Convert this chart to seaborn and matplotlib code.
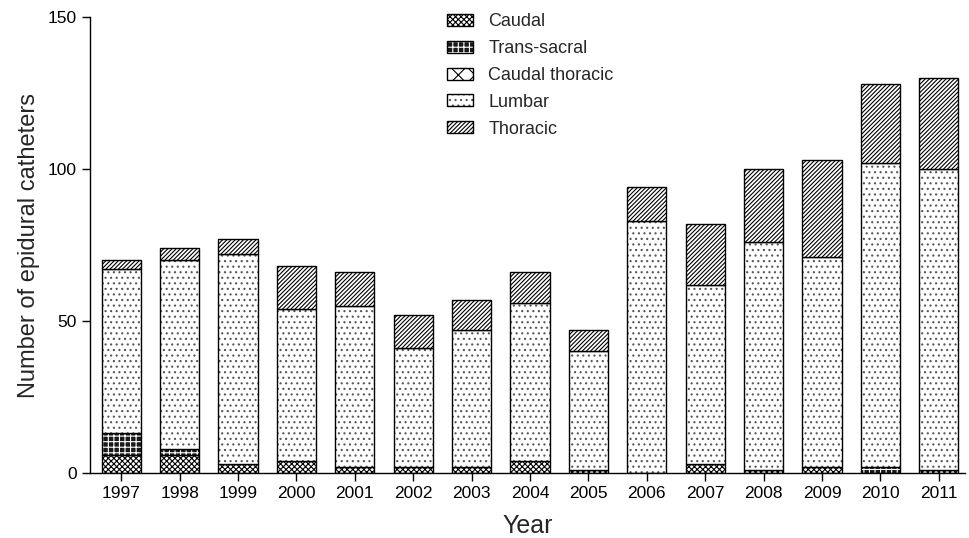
import matplotlib
matplotlib.use("Agg")
import matplotlib.pyplot as plt
import seaborn as sns
import numpy as np
import pandas as pd
from matplotlib.patches import Patch
from matplotlib.legend_handler import HandlerTuple

years = ["1997", "1998", "1999", "2000", "2001", "2002", "2003", "2004",
         "2005", "2006", "2007", "2008", "2009", "2010", "2011"]
caudal = [6, 6, 3, 4, 2, 2, 2, 4, 1, 0, 3, 1, 2, 0, 1]
trans_sacral = [7, 2, 0, 0, 0, 0, 0, 0, 0, 0, 0, 0, 0, 2, 0]
caudal_thoracic = [0, 0, 0, 0, 0, 0, 0, 0, 0, 0, 0, 0, 0, 0, 0]
lumbar_top = [67, 70, 72, 54, 55, 41, 47, 56, 40, 83, 62, 76, 71, 102, 100]
totals = [70, 74, 77, 68, 66, 52, 57, 66, 47, 94, 82, 100, 103, 128, 130]

caudal = np.array(caudal)
trans_sacral = np.array(trans_sacral)
caudal_thoracic = np.array(caudal_thoracic)
lumbar = np.array(lumbar_top) - caudal - trans_sacral - caudal_thoracic
thoracic = np.array(totals) - np.array(lumbar_top)

series = [
    ("Caudal", caudal),
    ("Trans-sacral", trans_sacral),
    ("Caudal thoracic", caudal_thoracic),
    ("Lumbar", lumbar),
    ("Thoracic", thoracic),
]

sns.set_style("ticks")
plt.rcParams["font.family"] = ["Liberation Sans", "DejaVu Sans"]
plt.rcParams["hatch.linewidth"] = 0.8

fig = plt.figure(figsize=(9.7, 5.38), dpi=100)
ax = fig.add_axes([0.093, 0.121, 0.902, 0.847])

styles = {
    "Caudal": dict(face="white", hatch="xxxxxx", hcol="black"),
    "Trans-sacral": dict(face="#1a1a1a", hatch="+++", hcol="white"),
    "Caudal thoracic": dict(face="white", hatch="xx", hcol="black"),
    "Lumbar": dict(face="white", hatch="...", hcol="#555555"),
    "Thoracic": dict(face="white", hatch="////////", hcol="black"),
}

bottom = np.zeros(len(years))
handles = []
for name, vals in series:
    st = styles[name]
    df = pd.DataFrame({"Year": years, "Value": vals})
    n0 = len(ax.patches)
    # hatch layer
    sns.barplot(data=df, x="Year", y="Value", ax=ax, color=st["face"],
                bottom=bottom, width=0.67, saturation=1, linewidth=0,
                edgecolor=st["hcol"], hatch=st["hatch"], errorbar=None)
    for p, v in zip(ax.patches[n0:], vals):
        p.set_facecolor(st["face"])
        p.set_edgecolor(st["hcol"])
        if v == 0:
            p.set_visible(False)
    n1 = len(ax.patches)
    # outline layer
    sns.barplot(data=df, x="Year", y="Value", ax=ax, fill=False,
                bottom=bottom, width=0.67, linewidth=1.0, color="black",
                edgecolor="black", errorbar=None)
    for p, v in zip(ax.patches[n1:], vals):
        p.set_fill(False)
        p.set_edgecolor("black")
        if v == 0:
            p.set_visible(False)
    bottom = bottom + vals
    h1 = Patch(facecolor=st["face"], edgecolor=st["hcol"], hatch=st["hatch"], linewidth=0)
    h2 = Patch(fill=False, edgecolor="black", linewidth=1.0)
    handles.append(((h1, h2), name))

ax.set_ylim(0, 150)
ax.set_xlim(-0.53, 14.45)
ax.set_yticks([0, 50, 100, 150])
ax.tick_params(axis="both", labelsize=12.5, length=6, width=1, colors="black")
ax.set_xlabel("Year", fontsize=18, labelpad=9)
ax.set_ylabel("Number of epidural catheters", fontsize=17, labelpad=6)
sns.despine(ax=ax)
for s in ["left", "bottom"]:
    ax.spines[s].set_linewidth(1)
    ax.spines[s].set_color("black")

leg = ax.legend([h for h, _ in handles], [n for _, n in handles],
                handler_map={tuple: HandlerTuple(ndivide=1)},
                loc="upper left", bbox_to_anchor=(0.444, 1.006),
                bbox_transform=fig.transFigure, frameon=False,
                fontsize=13, handlelength=1.45, handleheight=0.65,
                labelspacing=0.55, handletextpad=0.85)

fig.savefig("out.png", dpi=100)
